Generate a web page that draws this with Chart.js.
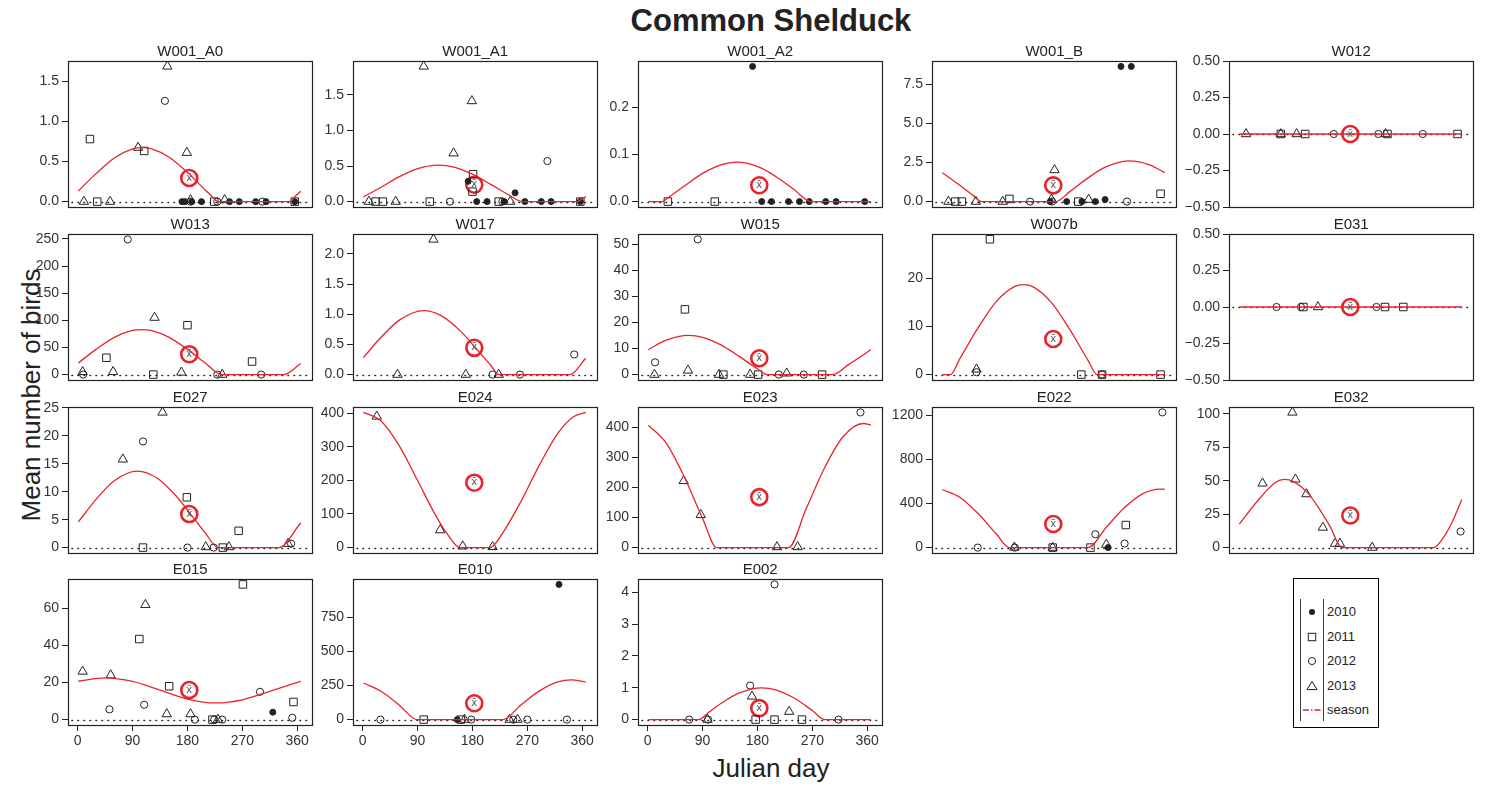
<!DOCTYPE html>
<html>
<head>
<meta charset="utf-8">
<script src="https://cdn.jsdelivr.net/npm/chart.js@4/dist/chart.umd.min.js"></script>
<style>
  body { margin: 0; background: #fff; font-family: "Liberation Sans", Arial, sans-serif; }
  #wrap { position: relative; width: 1491px; height: 787px; overflow: hidden; }
  #wrap canvas { position: absolute; }
  .lbl { position: absolute; color: #222; white-space: nowrap; }
  #legend { position: absolute; left: 1293px; top: 578px; width: 84px; height: 148px; border: 1px solid #000; background: #fff; }
  #legend .row { position: absolute; left: 0; height: 20px; font-size: 13px; color: #222; }
  #legend svg { position: absolute; left: 8px; top: 0; }
  #legend span { position: absolute; left: 33px; top: 2px; }
  #legend .col { position: absolute; top: 20px; width: 0; height: 122px; border-left: 1px solid #444; }
</style>
</head>
<body>
<div id="wrap">
  <div class="lbl" style="left:0;width:1542px;top:3px;text-align:center;font-weight:bold;font-size:31px;">Common Shelduck</div>
  <div class="lbl" style="left:0;width:1542px;top:753px;text-align:center;font-size:26px;">Julian day</div>
  <div class="lbl" style="left:31px;top:395px;font-size:26px;transform:translate(-50%,-50%) rotate(-90deg);">Mean number of birds</div>
  <div id="legend"><div class="col" style="left:6px"></div><div class="col" style="left:29px"></div></div>
</div>
<script>
// site panels, left to right, top to bottom
const sites = ['W001_A0', 'W001_A1', 'W001_A2', 'W001_B', 'W012',
               'W013', 'W017', 'W015', 'W007b', 'E031',
               'E027', 'E024', 'E023', 'E022', 'E032',
               'E015', 'E010', 'E002'];

// counts per survey: [julian day, mean number]
const obs2010 = [
  [[171, 0], [176, 0], [187, 0], [203, 0], [249, 0], [265, 0], [292, 0], [309, 0], [356, 0]],
  [[173, 0.285], [187, 0], [204, 0], [232, 0], [250, 0.123], [266, 0], [293, 0], [309, 0], [357, 0]],
  [[172, 0.287], [187, 0], [203, 0], [231, 0], [249, 0], [265, 0], [292, 0], [309, 0], [356, 0]],
  [[178, 0], [205, 0], [230, 0], [252, 0], [268, 0.13], [294, 8.65], [311, 8.65]],
  [], [], [], [], [], [], [], [], [],
  [[273, 0]],
  [],
  [[320, 4]],
  [[155, 0], [322, 990]],
  []
];
const obs2011 = [
  [[20, 0.78], [32, 0], [109, 0.632], [224, 0], [356, 0]],
  [[21, 0], [33, 0], [110, 0], [181, 0.385], [180, 0.14], [223, 0], [357, 0]],
  [[33, 0], [110, 0]],
  [[22, 0], [33, 0], [111, 0.17], [224, 0], [359, 0.5]],
  [[69, 0], [109, 0], [244, 0], [359, 0]],
  [[47, 31], [124, 0], [180, 91], [286, 24]],
  [],
  [[61, 25], [124, 0], [181, 0], [286, 0]],
  [[79, 28.1], [229, 0], [263, 0], [359, 0]],
  [[106, 0], [240, 0], [270, 0]],
  [[107, 0], [179, 9], [238, 0], [264, 3]],
  [],
  [],
  [[182, 0], [244, 0], [302, 205]],
  [],
  [[101, 43.5], [150, 18], [221, 0], [271, 73], [354, 9.5]],
  [[100, 0], [161, 0]],
  [[177, 0], [208, 0], [253, 0]]
];
const obs2012 = [
  [[143, 1.256], [185, 0], [229, 0], [303, 0]],
  [[143, 0], [229, 0], [303, 0.57]],
  [],
  [[145, 0], [181, 0], [304, 0]],
  [[156, 0], [229, 0], [302, 0]],
  [[9, 0], [82, 249], [229, 0], [301, 0]],
  [[213, 0], [258, 0], [347, 0.333]],
  [[12, 4.7], [82, 51.8], [215, 0], [256, 0]],
  [[57, 0.5], [263, 0]],
  [[62, 0], [102, 0], [226, 0]],
  [[107, 19], [180, 0], [223, 0], [350, 0.7]],
  [],
  [[349, 450]],
  [[59, 0], [120, 0], [252, 121], [300, 37], [362, 1228]],
  [[364, 12]],
  [[52, 5.5], [109, 8], [192, 0], [224, 0], [237, 0], [299, 15], [352, 1]],
  [[29, 0], [178, 0], [247, 0], [270, 0], [335, 0]],
  [[68, 0], [99, 0], [168, 1.07], [208, 4.25], [313, 0]]
];
const obs2013 = [
  [[10, 0], [53, 0], [99, 0.674], [147, 1.686], [179, 0.61], [185, 0.02], [241, 0.02]],
  [[10, 0], [54, 0], [100, 1.9], [149, 0.68], [179, 1.414], [242, 0]],
  [],
  [[11, 0], [56, 0], [100, 0], [180, 0.13], [185, 2.02], [241, 0.13]],
  [[12, 0], [69, 0], [95, 0], [241, 0]],
  [[8, 5], [58, 5], [126, 105], [170, 4], [237, 0]],
  [[57, 0], [116, 2.24], [169, 0], [223, 0]],
  [[11, 0], [66, 1.6], [117, 0], [168, 0], [228, 0.5]],
  [[57, 1.1]],
  [[130, 0]],
  [[74, 15.8], [139, 24.2], [210, 0.1], [248, 0.1], [345, 0.7]],
  [[23, 390], [127, 52], [164, 4], [213, 2]],
  [[59, 222], [87, 109], [212, 2], [246, 2]],
  [[119, 2], [182, 0], [270, 28]],
  [[39, 48], [88, 101], [93, 51], [111, 40], [138, 15], [158, 3], [166, 3], [219, 0]],
  [[8, 26], [54, 24], [111, 62], [146, 3], [185, 3], [230, 0]],
  [[167, 0], [241, 0], [254, 0]],
  [[98, 0], [171, 0.73], [232, 0.25]]
];

// overall site mean, plotted mid-year
const meanDay = 183;
const siteMeans = [0.295, 0.237, 0.0347, 1.04, 0, 37.6, 0.444, 6.25, 7.4, 0,
                   6, 193, 168, 214, 24, 16, 120, 0.36];

// fitted seasonal curve (cut at zero)
const season = [
  [[1, 0.132], [30, 0.349], [60, 0.544], [90, 0.657], [106, 0.674], [120, 0.661], [150, 0.554], [180, 0.363], [210, 0.139], [220, 0.068], [230, 0], [349, 0], [355, 0.054], [366, 0.13]],
  [[1, 0.065], [30, 0.201], [60, 0.35], [90, 0.464], [124, 0.513], [150, 0.484], [180, 0.385], [210, 0.242], [240, 0.092], [262, 0], [351, 0], [366, 0.07]],
  [[1, 0], [24, 0], [30, 0.005], [60, 0.033], [90, 0.06], [120, 0.078], [146, 0.0838], [180, 0.0746], [210, 0.0533], [240, 0.0255], [268, 0], [366, 0]],
  [[1, 1.84], [30, 1.025], [50, 0.431], [65, 0], [187, 0], [210, 0.637], [240, 1.517], [270, 2.232], [309, 2.61], [340, 2.367], [366, 1.85]],
  [[1, 0], [366, 0]],
  [[1, 21.4], [30, 46.4], [60, 68.6], [90, 81.3], [105, 83], [120, 81.3], [150, 68.6], [180, 46.4], [210, 20.5], [236, 0], [338, 0], [366, 20.5]],
  [[1, 0.281], [30, 0.618], [60, 0.902], [100, 1.06], [130, 0.97], [160, 0.724], [190, 0.386], [210, 0.154], [224, 0], [340, 0], [366, 0.27]],
  [[1, 9.59], [30, 13.17], [67, 15], [90, 14.28], [120, 11.37], [150, 6.97], [180, 2.23], [196, 0], [303, 0], [330, 3.93], [366, 9.5]],
  [[1, 0], [14, 0], [30, 3.38], [60, 9.79], [90, 15.27], [120, 18.33], [134, 18.7], [150, 18.22], [180, 14.95], [210, 9.38], [240, 2.97], [255, 0], [366, 0]],
  [[1, 0], [366, 0]],
  [[1, 4.59], [30, 8.63], [60, 11.98], [98, 13.7], [130, 12.47], [160, 9.41], [190, 5.31], [210, 2.51], [230, 0], [330, 0], [366, 4.44]],
  [[1, 402], [30, 376.3], [60, 302.3], [90, 199.3], [120, 94.4], [140, 37.1], [159, 0], [209, 0], [230, 44.7], [260, 138.6], [290, 245.9], [320, 339.4], [345, 388.3], [366, 402]],
  [[1, 407.3], [30, 348.6], [60, 235], [90, 97.3], [113, 0], [231, 0], [260, 129.8], [290, 264.8], [320, 368.1], [354, 413], [366, 408]],
  [[1, 527.6], [30, 455.8], [60, 307.2], [90, 121], [111, 0], [240, 0], [270, 184.6], [300, 363.5], [330, 490], [358, 532], [366, 529]],
  [[1, 17.5], [30, 34.4], [60, 48.6], [75, 51], [90, 49.3], [111, 42], [130, 30.5], [150, 15.7], [169, 0], [320, 0], [335, 7], [350, 19], [366, 36]],
  [[1, 20.7], [45, 22.5], [90, 20.6], [135, 15.9], [180, 11.1], [227, 9], [270, 10.7], [315, 15.3], [366, 20.6]],
  [[1, 268], [30, 207.4], [60, 105.8], [89, 0], [230, 0], [260, 109.5], [290, 210.2], [320, 275.7], [342, 291], [366, 274]],
  [[1, 0], [84, 0], [100, 0.228], [120, 0.504], [150, 0.837], [187, 1], [210, 0.936], [240, 0.677], [270, 0.284], [290, 0], [366, 0]]
];

// axes
const xTicks = [0, 90, 180, 270, 360];
const yTickLabels = [
  ['0.0', '0.5', '1.0', '1.5'],
  ['0.0', '0.5', '1.0', '1.5'],
  ['0.0', '0.1', '0.2'],
  ['0.0', '2.5', '5.0', '7.5'],
  ['\u22120.50', '\u22120.25', '0.00', '0.25', '0.50'],
  ['0', '50', '100', '150', '200', '250'],
  ['0.0', '0.5', '1.0', '1.5', '2.0'],
  ['0', '10', '20', '30', '40', '50'],
  ['0', '10', '20'],
  ['\u22120.50', '\u22120.25', '0.00', '0.25', '0.50'],
  ['0', '5', '10', '15', '20', '25'],
  ['0', '100', '200', '300', '400'],
  ['0', '100', '200', '300', '400'],
  ['0', '400', '800', '1200'],
  ['0', '25', '50', '75', '100'],
  ['0', '20', '40', '60'],
  ['0', '250', '500', '750'],
  ['0', '1', '2', '3', '4']
];
const yRange = [
  [-0.067, 1.753], [-0.076, 1.976], [-0.0115, 0.2985], [-0.346, 8.996], [-0.5, 0.5],
  [-9.96, 258.96], [-0.0896, 2.33], [-2.07, 53.87], [-1.12, 29.2], [-0.5, 0.5],
  [-0.97, 25.17], [-16.1, 418.1], [-18, 468], [-49, 1277], [-4.04, 105.04],
  [-2.92, 75.92], [-39.6, 1029.6], [-0.17, 4.42]
];
const X_MIN = -16, X_MAX = 385;

// panel grid (plot box positions)
const colLeft = [68, 353, 638, 932, 1229];
const rowTop = [61, 234, 407, 579];
const BOX_W = 247, BOX_H = 146;
const AXIS_W = 52, TOP_PAD = 24, X_AXIS_H = 36;

const RED = '#e8242a';
const INK = '#222';

const yearStyles = [
  { label: '2010', pointStyle: 'circle', radius: 3, fill: INK },
  { label: '2011', pointStyle: 'rect', radius: 5.3, fill: 'rgba(0,0,0,0)' },
  { label: '2012', pointStyle: 'circle', radius: 3.6, fill: 'rgba(0,0,0,0)' },
  { label: '2013', pointStyle: 'triangle', radius: 5.4, fill: 'rgba(0,0,0,0)' }
];
const yearData = [obs2010, obs2011, obs2012, obs2013];

const toXY = arr => arr.map(([x, y]) => ({ x, y }));
const parseTick = s => parseFloat(s.replace('\u2212', '-'));

// box, dotted zero line, panel title and the x-bar inside the mean marker
const panelDecor = {
  id: 'panelDecor',
  beforeDatasetsDraw(chart) {
    const { ctx, chartArea: a, scales } = chart;
    const y0 = Math.round(scales.y.getPixelForValue(0)) + 0.5;
    ctx.save();
    ctx.strokeStyle = INK;
    ctx.lineWidth = 1.6;
    ctx.lineCap = 'round';
    ctx.setLineDash([0.5, 5.5]);
    ctx.beginPath();
    ctx.moveTo(a.left + 4, y0);
    ctx.lineTo(a.right - 2, y0);
    ctx.stroke();
    ctx.restore();
  },
  afterDatasetsDraw(chart, args, opts) {
    const { ctx, chartArea: a } = chart;
    ctx.save();
    ctx.strokeStyle = INK;
    ctx.lineWidth = 1.2;
    ctx.strokeRect(Math.round(a.left) + 0.5, Math.round(a.top) + 0.5,
                   Math.round(a.right - a.left), Math.round(a.bottom - a.top));
    ctx.fillStyle = INK;
    ctx.font = '15px "Liberation Sans", Arial, sans-serif';
    ctx.textAlign = 'center';
    ctx.textBaseline = 'bottom';
    ctx.fillText(opts.title, (a.left + a.right) / 2, a.top - 2);
    const m = chart.getDatasetMeta(chart.data.datasets.length - 1).data[0];
    ctx.fillStyle = '#555';
    ctx.font = '10px "DejaVu Sans", sans-serif';
    ctx.textBaseline = 'middle';
    ctx.fillText('x\u0304', m.x, m.y);
    ctx.restore();
  }
};

function makePanel(i) {
  const col = i % 5, row = Math.floor(i / 5);
  const bottomRow = row === 3;
  const canvas = document.createElement('canvas');
  const w = AXIS_W + BOX_W + 8;
  const h = TOP_PAD + BOX_H + (bottomRow ? X_AXIS_H : 14);
  canvas.width = w;
  canvas.height = h;
  canvas.style.left = (colLeft[col] - AXIS_W) + 'px';
  canvas.style.top = (rowTop[row] - TOP_PAD) + 'px';
  document.getElementById('wrap').appendChild(canvas);

  const labels = yTickLabels[i];
  const values = labels.map(parseTick);

  const datasets = [{
    label: 'season',
    data: toXY(season[i]),
    showLine: true,
    borderColor: RED,
    borderWidth: 1.3,
    pointRadius: 0,
    cubicInterpolationMode: 'monotone'
  }];
  yearStyles.forEach((st, k) => {
    datasets.push({
      label: st.label,
      data: toXY(yearData[k][i]),
      pointStyle: st.pointStyle,
      pointRadius: st.radius,
      pointBackgroundColor: st.fill,
      pointBorderColor: INK,
      pointBorderWidth: 1,
      showLine: false
    });
  });
  datasets.push({
    label: 'mean',
    data: [{ x: meanDay, y: siteMeans[i] }],
    pointStyle: 'circle',
    pointRadius: 8,
    pointBorderWidth: 2.6,
    pointBorderColor: RED,
    pointBackgroundColor: 'rgba(255,255,255,0)',
    showLine: false
  });

  new Chart(canvas, {
    type: 'scatter',
    data: { datasets },
    options: {
      responsive: false,
      animation: false,
      events: [],
      layout: { padding: { left: 0, top: TOP_PAD, right: 8, bottom: bottomRow ? 0 : 14 } },
      plugins: {
        legend: { display: false },
        tooltip: { enabled: false },
        panelDecor: { title: sites[i] }
      },
      scales: {
        x: {
          type: 'linear',
          min: X_MIN,
          max: X_MAX,
          display: bottomRow,
          afterBuildTicks: s => { s.ticks = xTicks.map(v => ({ value: v })); },
          afterFit: s => { s.height = bottomRow ? X_AXIS_H : 0; },
          ticks: { color: '#333', font: { size: 14, family: '"Liberation Sans", Arial, sans-serif' }, padding: 2, autoSkip: false, maxRotation: 0 },
          grid: { drawOnChartArea: false, drawTicks: true, tickLength: 6, color: INK },
          border: { display: false }
        },
        y: {
          type: 'linear',
          min: yRange[i][0],
          max: yRange[i][1],
          afterBuildTicks: s => { s.ticks = values.map(v => ({ value: v })); },
          afterFit: s => { s.width = AXIS_W; },
          ticks: {
            color: '#333',
            font: { size: 14, family: '"Liberation Sans", Arial, sans-serif' },
            padding: 3,
            autoSkip: false,
            callback: v => labels[values.indexOf(v)]
          },
          grid: { drawOnChartArea: false, drawTicks: true, tickLength: 6, color: INK },
          border: { display: false }
        }
      }
    },
    plugins: [panelDecor]
  });
}

sites.forEach((_, i) => makePanel(i));

// legend
const legendRows = [
  { text: '2010', svg: '<circle cx="10" cy="10" r="3" fill="#222"/>' },
  { text: '2011', svg: '<rect x="6.3" y="6.3" width="7.4" height="7.4" fill="none" stroke="#222"/>' },
  { text: '2012', svg: '<circle cx="10" cy="10" r="3.6" fill="none" stroke="#222"/>' },
  { text: '2013', svg: '<path d="M10 5.2 L15 13.6 L5 13.6 Z" fill="none" stroke="#222"/>' },
  { text: 'season', svg: '<line x1="1" y1="10" x2="19" y2="10" stroke="' + RED + '" stroke-width="1.3" stroke-dasharray="6 2 1.5 2"/>' }
];
const legend = document.getElementById('legend');
legendRows.forEach((r, k) => {
  const d = document.createElement('div');
  d.className = 'row';
  d.style.top = (23 + k * 24.5) + 'px';
  d.innerHTML = '<svg width="20" height="20">' + r.svg + '</svg><span>' + r.text + '</span>';
  legend.appendChild(d);
});
</script>
</body>
</html>
